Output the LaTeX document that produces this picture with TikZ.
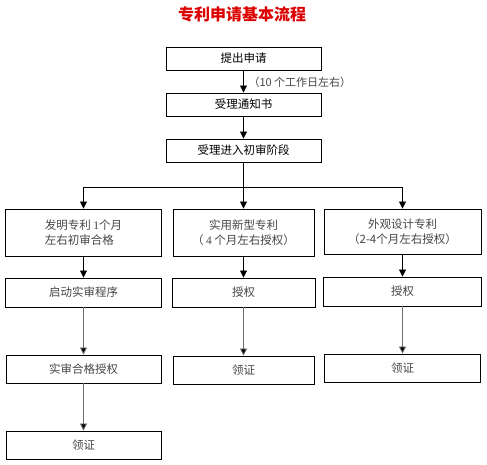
\documentclass[tikz,border=0pt]{standalone}
\usepackage{fontspec}
\setmainfont{Noto Sans CJK SC}
\newfontfamily\latser{Liberation Serif}
\usetikzlibrary{arrows.meta}
\definecolor{titlered}{RGB}{220,0,0}
\definecolor{txtgray}{RGB}{70,70,70}
\definecolor{linegray}{RGB}{110,110,110}
\tikzset{
  box/.style={draw=black, line width=0.9pt, rectangle, inner sep=0pt, font=\fontsize{11.5}{15}\selectfont, text=txtgray},
  topbox/.style={box, text=black, minimum width=155pt, minimum height=23pt},
  arr/.style={line width=0.8pt, -{Triangle[length=7pt,width=7pt]}},
  garr/.style={line width=0.8pt, draw=linegray, -{Triangle[length=7pt,width=7pt,fill=black]}},
}
\begin{document}
\begin{tikzpicture}[x=1pt,y=-1pt]
\useasboundingbox[fill=white] (0,0) rectangle (487,464);
% title
\node[font=\fontsize{16}{18}\selectfont\bfseries, text=titlered] (title) at (242,14) {专利申请基本流程};
% top boxes
\node[topbox] (b1) at (243.5,58.5) {提出申请};
\node[topbox] (b2) at (243.5,104.5) {受理通知书};
\node[topbox] (b3) at (243.5,150.5) {受理进入初审阶段};
\node[anchor=west, font=\fontsize{11}{13}\selectfont, text=txtgray] (lab) at (245,82) {（10 个工作日左右）};
% row 1
\node[box, minimum width=156pt, minimum height=47pt, align=left] (L1) at (83.5,232.5) {发明专利 {\latser 1}个月\\左右初审合格};
\node[box, minimum width=141pt, minimum height=47pt, align=center] (M1) at (243.5,232.5) {实用新型专利\\（ {\latser 4} 个月左右授权）};
\node[box, minimum width=157pt, minimum height=45pt, align=center] (R1) at (402.5,231.5) {外观设计专利\\（2-4个月左右授权）};
% row 2
\node[box, minimum width=156pt, minimum height=29pt] (L2) at (83.5,292.5) {启动实审程序};
\node[box, minimum width=143pt, minimum height=29pt] (M2) at (243.5,292.5) {授权};
\node[box, minimum width=158pt, minimum height=29pt] (R2) at (402.5,291.5) {授权};
% row 3
\node[box, minimum width=155pt, minimum height=28pt] (L3) at (83.5,369) {实审合格授权};
\node[box, minimum width=141pt, minimum height=28pt] (M3) at (243.5,370) {领证};
\node[box, minimum width=156pt, minimum height=28pt] (R3) at (402.5,368) {领证};
% row 4
\node[box, minimum width=155pt, minimum height=28pt] (L4) at (83.5,445) {领证};
% connectors
\draw[arr] (b1.south) -- (b2.north);
\draw[arr] (b2.south) -- (b3.north);
\coordinate (split) at (243.5,187);
\draw[arr] (b3.south) -- (M1.north);
\draw[arr] (split) -| (L1.north);
\draw[arr] (split) -| (R1.north);
\draw[arr] (L1.south) -- (L2.north);
\draw[arr] (M1.south) -- (M2.north);
\draw[arr] (R1.south) -- (R2.north);
\draw[garr] (L2.south) -- (L3.north);
\draw[garr] (M2.south) -- (M3.north);
\draw[garr] (R2.south) -- (R3.north);
\draw[garr] (L3.south) -- (L4.north);
\end{tikzpicture}
\end{document}
